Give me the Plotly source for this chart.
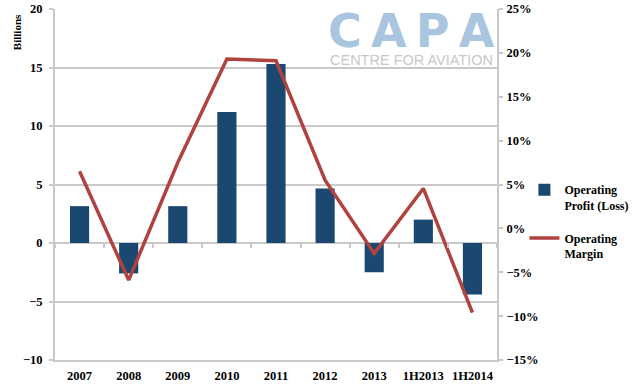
import plotly.graph_objects as go

categories = ['2007', '2008', '2009', '2010', '2011', '2012', '2013', '1H2013', '1H2014']
operating_profit = [3.15, -2.6, 3.15, 11.2, 15.3, 4.65, -2.5, 2.0, -4.4]
operating_margin = [6.5, -5.9, 7.5, 19.3, 19.1, 5.5, -2.85, 4.55, -9.6]

SERIF = "Liberation Serif"
GRID = "#c9c9c9"
BAR = "#1b4870"
LINE = "#b0423f"

fig = go.Figure()
fig.add_trace(go.Bar(
    x=categories, y=operating_profit, name="Operating<br>Profit (Loss)",
    marker=dict(color=BAR, line=dict(width=0)), legend="legend",
))
fig.add_trace(go.Scatter(
    x=categories, y=operating_margin, name="Operating<br>Margin", yaxis="y2",
    mode="lines", line=dict(color=LINE, width=3.5), legend="legend2",
))
# helper trace to carry the category-boundary ticks on the zero line
fig.add_trace(go.Scatter(
    x=categories, y=[None] * len(categories), xaxis="x2", showlegend=False,
    hoverinfo="skip", mode="lines",
))

tickfont = dict(family=SERIF, size=12.5, color="black", weight="bold")

fig.update_layout(
    width=641, height=386,
    margin=dict(l=55, r=144, t=9, b=26, autoexpand=False),
    paper_bgcolor="white", plot_bgcolor="white",
    bargap=0.61,
    xaxis=dict(
        type="category", categoryorder="array", categoryarray=categories,
        range=[-0.5, 8.5], showgrid=False, showline=True, linecolor=GRID, linewidth=2,
        ticks="", tickfont=tickfont, ticklabelstandoff=3,
    ),
    xaxis2=dict(
        type="category", categoryorder="array", categoryarray=categories,
        range=[-0.5, 8.5], overlaying="x", anchor="free", position=1/3,
        showgrid=False, showline=False, showticklabels=False,
        ticks="outside", ticklen=4, tickcolor=GRID, tickwidth=1.5, tickson="boundaries",
    ),
    yaxis=dict(
        range=[-10, 20], dtick=5, showgrid=True, gridcolor=GRID, gridwidth=2,
        zeroline=False, showline=True, linecolor=GRID, linewidth=2,
        ticks="outside", ticklen=4, tickcolor=GRID, tickwidth=2,
        tickfont=tickfont, ticklabelstandoff=4,
    ),
    yaxis2=dict(
        range=[-15, 25], dtick=5, overlaying="y", side="right", ticksuffix="%",
        showgrid=False, zeroline=False, showline=True, linecolor=GRID, linewidth=2,
        ticks="outside", ticklen=4, tickcolor=GRID, tickwidth=1.5,
        tickfont=tickfont, ticklabelstandoff=1,
    ),
    legend=dict(
        x=1.062, y=0.526, xanchor="left", yanchor="top", valign="top",
        font=dict(family=SERIF, size=12, color="black", weight="bold"),
        bgcolor="rgba(0,0,0,0)",
    ),
    legend2=dict(
        x=1.062, y=0.388, xanchor="left", yanchor="top", valign="top",
        font=dict(family=SERIF, size=12, color="black", weight="bold"),
        bgcolor="rgba(0,0,0,0)",
    ),
    annotations=[
        dict(text="Billions", xref="paper", yref="paper", x=-0.086, y=0.934,
             xanchor="center", yanchor="middle", textangle=-90, showarrow=False,
             font=dict(family=SERIF, size=11, color="black", weight="bold")),
        dict(text="C\u2009A\u2009P\u2009A", xref="paper", yref="paper", x=0.806, y=0.937,
             xanchor="center", yanchor="middle", showarrow=False,
             font=dict(family="DejaVu Sans", size=46, color="#a9c5e0", weight="bold")),
        dict(text="CENTRE FOR AVIATION", xref="paper", yref="paper", x=0.806, y=0.855,
             xanchor="center", yanchor="middle", showarrow=False,
             font=dict(family="Liberation Sans", size=14.5, color="#c8c8c8")),
    ],
)

fig.write_html("out.html", config={"displayModeBar": False},
               post_script="document.body.style.margin='0';")
